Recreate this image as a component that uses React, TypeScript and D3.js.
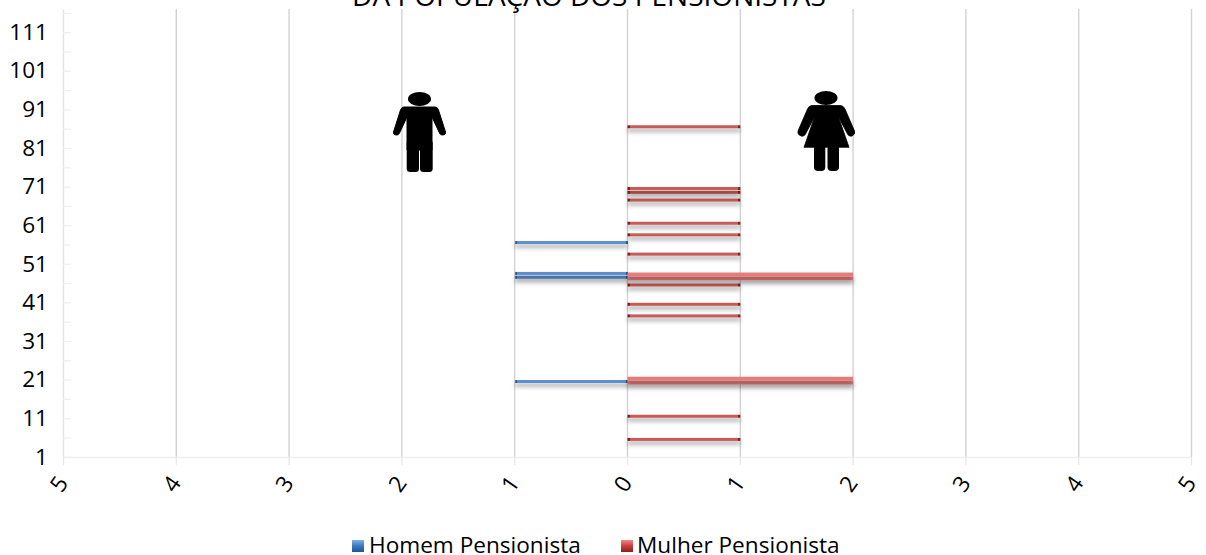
import React, { useEffect, useRef } from 'react';
import * as d3 from 'd3';

const title = 'DA POPULAÇÃO DOS PENSIONISTAS';
const seriesNames = ['Homem Pensionista', 'Mulher Pensionista'];
const xTicks = [-5, -4, -3, -2, -1, 0, 1, 2, 3, 4, 5];
const ages = d3.range(1, 117);

const menAges = [20, 47, 48, 56];
const menValues = [1, 1, 1, 1];
const womenAges = [5, 11, 20, 21, 37, 40, 45, 47, 48, 53, 58, 61, 67, 69, 70, 86];
const womenValues = [1, 1, 2, 2, 1, 1, 1, 2, 2, 1, 1, 1, 1, 1, 1, 1];

const width = 1206;
const height = 555;
const fontFamily = '"Open Sans", "Noto Sans", sans-serif';
const fontSize = 22.6;

const Man = () => (
  <g fill="#000" stroke="#000" strokeLinejoin="round">
    <ellipse cx={419.5} cy={99} rx={11.5} ry={7} stroke="none" />
    <path
      d="M404 107 H435 Q437.5 107 438.5 110 L445.5 132 Q446 134.5 443 135 Q440.5 135.5 439.5 133 L432 117 V150 H407 V117 L399.5 133 Q398.5 135.5 396 135 Q393 134.5 393.5 132 L400.5 110 Q401.5 107 404 107 Z"
      strokeWidth={1}
    />
    <rect x={406.7} y={140} width={12.3} height={32} rx={3.5} stroke="none" />
    <rect x={420} y={140} width={12.7} height={32} rx={3.5} stroke="none" />
  </g>
);

const Woman = () => (
  <g fill="#000" stroke="#000" strokeLinejoin="round">
    <ellipse cx={826} cy={98} rx={11.5} ry={7} stroke="none" />
    <path d="M812 105.5 H840 Q843.5 105.5 845 109 L854.5 131 Q855.5 134.5 852 136 Q849 137 847.5 134 L838.5 117 L849 147.3 H804 L814.5 117 L805.5 134 Q804 137 801 136 Q797 134.5 798 131 L807.5 109 Q809 105.5 812 105.5 Z" strokeWidth={0.8} />
    <rect x={814} y={145} width={11.3} height={26} rx={4} stroke="none" />
    <rect x={827.5} y={145} width={11.5} height={26} rx={4} stroke="none" />
  </g>
);

export default function App() {
  const ref = useRef<SVGSVGElement>(null);

  useEffect(() => {
    const svg = d3.select(ref.current);
    svg.selectAll('g.chart').remove();
    const root = svg.insert('g', 'text').attr('class', 'chart');

    const x = d3.scaleLinear().domain([-5, 5]).range([63, 1191]);
    const yBand = d3.scaleBand<number>().domain(ages).range([456.8, 9]);
    const yAxisScale = d3.scaleLinear().domain([1, 117]).range([456.8, 9]);

    // gridlines
    root.append('g')
      .selectAll('line')
      .data(xTicks.slice(1))
      .join('line')
      .attr('x1', d => x(d) + 0.5)
      .attr('x2', d => x(d) + 0.5)
      .attr('y1', 9)
      .attr('y2', 457)
      .attr('stroke', '#d2d2d2')
      .attr('stroke-width', 1.4);

    const yAxis = d3.axisLeft(yAxisScale)
      .tickValues(d3.range(1, 118, 5))
      .tickSize(-8)
      .tickSizeOuter(0)
      .tickPadding(15)
      .tickFormat(d => (+d <= 111 && (+d - 1) % 10 === 0 ? String(d) : ''));
    const yg = root.append('g').attr('transform', 'translate(63,0)').call(yAxis);
    yg.selectAll('.tick line').attr('stroke', '#eeeeee').attr('stroke-width', 1.2);
    yg.select('.domain').attr('stroke', '#e3e3e3').attr('stroke-width', 1.4);
    yg.selectAll('text')
      .attr('font-family', fontFamily)
      .attr('font-size', fontSize)
      .attr('fill', '#000');

    const xAxis = d3.axisBottom(x)
      .tickValues(xTicks)
      .tickSize(8)
      .tickSizeOuter(0)
      .tickFormat(d => String(Math.abs(+d)));
    const xg = root.append('g').attr('transform', 'translate(0,457)').call(xAxis);
    xg.selectAll('.tick line').attr('stroke', '#e6e6e6').attr('stroke-width', 1.2);
    xg.select('.domain').attr('stroke', '#eeeeee').attr('stroke-width', 1.4);
    xg.selectAll('text')
      .attr('font-family', fontFamily)
      .attr('font-size', fontSize)
      .attr('fill', '#000')
      .attr('text-anchor', 'middle')
      .attr('dy', 0)
      .attr('y', 0)
      .attr('dominant-baseline', 'middle')
      .attr('transform', 'translate(-3,28) rotate(-55)');

    const barHeight = 3;
    const men = menAges.map((age, i) => ({ age, value: menValues[i] }));
    const women = womenAges.map((age, i) => ({ age, value: womenValues[i] }));

    root.append('g')
      .selectAll('rect')
      .data(men)
      .join('rect')
      .attr('x', d => x(-d.value) + 1)
      .attr('width', d => x(0) - x(-d.value))
      .attr('y', d => yBand(d.age)! + yBand.bandwidth() / 2 - barHeight / 2)
      .attr('height', barHeight)
      .attr('fill', 'url(#menBar)')
      .attr('filter', 'url(#barShadow)');

    // lower ages first so the shadow of the row above falls on the row below
    root.append('g')
      .selectAll('rect')
      .data(women)
      .join('rect')
      .attr('x', x(0) + 0.5)
      .attr('width', d => x(d.value) - x(0))
      .attr('y', d => yBand(d.age)! + yBand.bandwidth() / 2 - barHeight / 2 + (d.value > 1 ? 0.6 : 0))
      .attr('height', d => (d.value > 1 ? 3.9 : barHeight))
      .attr('fill', d => (d.value > 1 ? '#e57b7b' : 'url(#womenBar)'))
      .attr('filter', 'url(#barShadow)');
  }, []);

  return (
    <svg
      ref={ref}
      width={width}
      height={height}
      style={{ position: 'absolute', left: 0, top: 0, background: '#fff' }}
    >
      <defs>
        <filter id="barShadow" x="-5%" y="-300%" width="110%" height="800%">
          <feDropShadow dx={0} dy={3.5} stdDeviation={2} floodColor="#000" floodOpacity={0.38} />
        </filter>
        <linearGradient id="menBar">
          <stop offset="0" stopColor="#1f5aa0" />
          <stop offset="0.018" stopColor="#1f5aa0" />
          <stop offset="0.018" stopColor="#5b8dcf" />
          <stop offset="0.982" stopColor="#5b8dcf" />
          <stop offset="0.982" stopColor="#1f5aa0" />
          <stop offset="1" stopColor="#1f5aa0" />
        </linearGradient>
        <linearGradient id="womenBar">
          <stop offset="0" stopColor="#8f1f1c" />
          <stop offset="0.018" stopColor="#8f1f1c" />
          <stop offset="0.018" stopColor="#c85a58" />
          <stop offset="0.982" stopColor="#c85a58" />
          <stop offset="0.982" stopColor="#8f1f1c" />
          <stop offset="1" stopColor="#8f1f1c" />
        </linearGradient>
        <linearGradient id="menKey" x1="0" y1="0" x2="0" y2="1">
          <stop offset="0" stopColor="#7fb0e6" />
          <stop offset="0.5" stopColor="#3a78bd" />
          <stop offset="1" stopColor="#1f5596" />
        </linearGradient>
        <linearGradient id="womenKey" x1="0" y1="0" x2="0" y2="1">
          <stop offset="0" stopColor="#ef8a86" />
          <stop offset="0.5" stopColor="#c8403c" />
          <stop offset="1" stopColor="#8f1f1c" />
        </linearGradient>
      </defs>

      <text x={589} y={6} textAnchor="middle" fontFamily={fontFamily} fontSize={28} fill="#000">
        {title}
      </text>

      <Man />
      <Woman />

      <g fontFamily={fontFamily} fontSize={fontSize} fill="#000">
        <rect x={352} y={540} width={12} height={12} fill="url(#menKey)" />
        <text x={369} y={553}>{seriesNames[0]}</text>
        <rect x={621} y={540} width={12} height={12} fill="url(#womenKey)" />
        <text x={637} y={553}>{seriesNames[1]}</text>
      </g>
    </svg>
  );
}
